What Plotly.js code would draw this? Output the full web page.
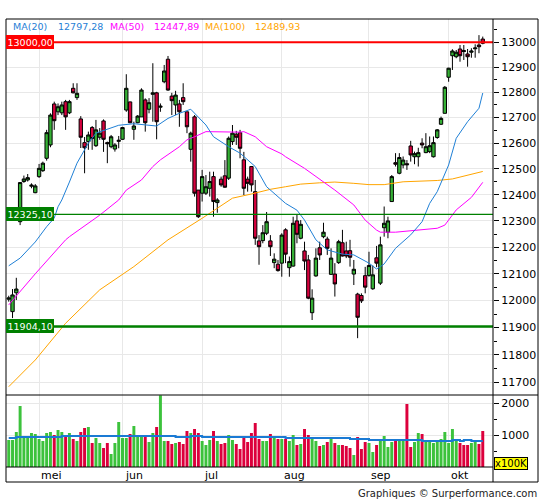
<!DOCTYPE html>
<html><head><meta charset="utf-8">
<script src="https://cdn.plot.ly/plotly-3.0.1.min.js"></script>
<style>body{margin:0;background:#fff}#chart{width:545px;height:500px}</style>
</head><body><div id="chart"></div>
<script>
// DAX daily candles, 19 Apr 2017 - 13 Oct 2017
const openP=[12005,11959,12029,12297,12451,12457,12433,12408,12470,12493,
12541,12593,12754,12723,12719,12763,12719,12816,12779,12695,
12602,12606,12661,12590,12623,12687,12602,12586,12577,12607,
12615,12730,12762,12654,12680,12703,12770,12733,12792,12798,
12741,12842,12932,12785,12750,12754,12779,12723,12576,12703,
12418,12406,12406,12425,12470,12370,12460,12473,12464,12606,
12635,12641,12535,12460,12509,12412,12224,12225,12253,12224,
12142,12136,12140,12266,12123,12129,12300,12234,12186,12152,
11955,12092,12198,12240,12231,12098,12099,12142,12217,12186,
12187,12099,12024,12019,12093,12094,12044,12160,12065,12274,
12257,12374,12524,12483,12515,12520,12589,12547,12547,12600,
12563,12567,12547,12622,12674,12717,12860,12946,12942,12973,
12967,12953,12960,12974,12989,13013];
const highP=[12018,12043,12085,12449,12474,12480,12444,12441,12519,12528,
12652,12717,12763,12756,12763,12770,12770,12836,12836,12706,
12624,12645,12667,12691,12659,12693,12606,12632,12600,12628,
12664,12872,12763,12684,12710,12816,12776,12777,12916,12802,
12756,12909,12945,12798,12806,12770,12836,12723,12645,12710,
12418,12496,12476,12489,12489,12387,12470,12534,12626,12671,
12648,12652,12566,12470,12511,12457,12246,12284,12334,12246,
12177,12152,12253,12272,12165,12316,12323,12303,12221,12171,
12042,12196,12221,12293,12240,12196,12140,12228,12266,12221,
12228,12152,12029,12027,12126,12183,12131,12205,12240,12355,
12316,12476,12561,12561,12548,12534,12609,12567,12582,12619,
12639,12626,12626,12655,12704,12825,12898,12972,12969,12989,
12989,12973,12976,12992,13029,13023];
const lowP=[11996,11935,12002,12284,12446,12451,12425,12406,12465,12488,
12532,12584,12652,12710,12710,12652,12714,12796,12770,12581,
12483,12574,12574,12585,12613,12566,12522,12580,12567,12580,
12613,12723,12678,12613,12678,12703,12645,12717,12684,12615,
12723,12836,12806,12710,12710,12664,12750,12639,12528,12393,
12311,12374,12399,12393,12316,12331,12431,12427,12457,12593,
12593,12541,12399,12412,12412,12209,12134,12215,12246,12167,
12121,12108,12089,12140,12089,12127,12215,12230,12114,12005,
11928,12089,12152,12234,12171,12096,12015,12137,12165,12159,
12127,12058,11861,11991,12027,12089,12040,12125,12058,12240,
12234,12374,12509,12479,12502,12496,12528,12518,12509,12580,
12561,12561,12544,12617,12671,12717,12842,12889,12936,12922,
12929,12902,12938,12938,12956,12992];
const closeP=[12010,12021,12043,12447,12461,12466,12437,12434,12502,12522,
12641,12710,12688,12743,12750,12703,12763,12798,12796,12623,
12582,12632,12618,12652,12639,12615,12598,12625,12593,12611,
12661,12816,12680,12667,12706,12809,12680,12759,12798,12684,
12745,12885,12809,12767,12789,12723,12763,12664,12639,12406,
12316,12470,12431,12451,12374,12380,12438,12429,12619,12639,
12623,12580,12425,12444,12438,12234,12202,12255,12297,12202,
12155,12112,12246,12174,12146,12291,12249,12287,12148,12009,
12009,12159,12171,12257,12196,12159,12062,12221,12167,12167,
12162,12117,11938,11999,12050,12131,12096,12140,12209,12291,
12300,12470,12518,12544,12534,12516,12554,12559,12563,12593,
12586,12590,12602,12652,12697,12820,12896,12965,12960,12946,
12963,12942,12965,12977,12982,12996];
// volume in units of 100K
const volume=[844,844,1094,1906,927,927,1063,1031,875,813,
1063,1094,1000,1156,1094,969,1063,875,813,1094,
1219,1250,750,906,750,594,750,406,750,1406,
906,906,1031,1281,1000,969,1000,781,1063,1250,
2240,813,813,719,750,781,719,1125,1063,1188,
1063,813,688,844,1125,813,719,750,1000,844,
719,563,938,781,1063,1375,875,813,813,1031,
938,875,875,875,813,1000,688,719,1188,1000,
938,813,656,688,781,938,750,688,688,656,
594,375,938,563,781,750,469,688,813,969,
625,781,875,844,844,1969,625,781,1063,1031,
813,813,750,844,875,1094,750,1188,813,750,
688,688,750,781,719,1125];
// moving averages (session index, value)
const ma20X=[0,3,7,9,10,12,13,14,15,16,18,21,23,26,29,33,37,39,42,45,48,49,52,54,58,61,65,68,71,73,76,78,81,84,88,91,95,97,98,99,102,106,109,111,113,116,118,121,124,125];
const ma20=[12130,12159,12220,12259,12278,12311,12354,12380,12418,12449,12522,12600,12639,12655,12670,12676,12669,12667,12697,12717,12733,12717,12671,12625,12586,12561,12509,12431,12393,12367,12341,12303,12228,12190,12174,12171,12140,12118,12127,12137,12196,12247,12297,12367,12412,12515,12619,12684,12737,12797.28];
const ma50X=[0,7,15,16,24,29,31,35,38,40,45,47,49,52,61,62,65,68,72,73,78,83,86,91,93,94,97,98,102,109,113,115,118,122,125];
const ma50=[11984,12100,12228,12240,12322,12380,12418,12457,12509,12535,12586,12613,12625,12645,12643,12645,12625,12586,12558,12547,12502,12451,12418,12361,12323,12303,12265,12257,12257,12268,12272,12284,12342,12390,12447.89];
const ma100X=[0,7,15,24,33,42,51,59,64,69,73,77,82,86,91,95,99,104,113,117,125];
const ma100=[11684,11781,11916,12040,12127,12228,12310,12387,12403,12421,12431,12441,12446,12449,12444,12439,12439,12450,12455,12461,12489.93];
const volMaX=[0,2,14,44,48,51,73,90,95,109,117,119,120,122,125];
const volMa=[906,938,969,938,969,938,906,875,844,813,844,813,844,813,813];
const monthIdx=[8,30,51,72,95,116];
const monthLabels=['mei','jun','jul','aug','sep','okt'];
const levels=[13000.00,12325.10,11904.10];
const priceTicks=[11700,11800,11900,12000,12100,12200,12300,12400,12500,12600,12700,12800,12900,13000];
const priceMinor=[11650,11750,11850,11950,12050,12150,12250,12350,12450,12550,12650,12750,12850,12950,13050];
const volTicks=[1000,2000];
const volMinor=[500,1500];

const idx=openP.map((_,i)=>i);
const fmt=v=>v.toFixed(2).replace('.',',');
const C_UP='#35b035', C_DN='#d5003d';
const C20='#1f80d6', C50='#ff00ff', C100='#ffa500';
const FONT='DejaVu Sans';

const traces=[
 {type:'candlestick',x:idx,open:openP,high:highP,low:lowP,close:closeP,xaxis:'x',yaxis:'y',
  increasing:{fillcolor:C_UP,line:{color:'#000',width:1}},
  decreasing:{fillcolor:C_DN,line:{color:'#000',width:1}},
  whiskerwidth:0,hoverinfo:'skip'},
 {type:'scatter',mode:'lines',x:ma100X,y:ma100,line:{color:C100,width:1},xaxis:'x',yaxis:'y',hoverinfo:'skip'},
 {type:'scatter',mode:'lines',x:ma50X,y:ma50,line:{color:C50,width:1},xaxis:'x',yaxis:'y',hoverinfo:'skip'},
 {type:'scatter',mode:'lines',x:ma20X,y:ma20,line:{color:C20,width:1},xaxis:'x',yaxis:'y',hoverinfo:'skip'},
 {type:'scatter',mode:'lines',x:[-5,140],y:[levels[0],levels[0]],line:{color:'#ff0000',width:2},xaxis:'x',yaxis:'y',hoverinfo:'skip'},
 {type:'scatter',mode:'lines',x:[-5,140],y:[levels[1],levels[1]],line:{color:'#008000',width:1.3},xaxis:'x',yaxis:'y',hoverinfo:'skip'},
 {type:'scatter',mode:'lines',x:[-5,140],y:[levels[2],levels[2]],line:{color:'#008000',width:2.5},xaxis:'x',yaxis:'y',hoverinfo:'skip'},
 {type:'bar',x:idx,y:volume,xaxis:'x2',yaxis:'y2',
  marker:{color:idx.map(i=>closeP[i]>=openP[i]?'#3cc23c':'#dc003c'),line:{width:0}},hoverinfo:'skip'},
 {type:'scatter',mode:'lines',x:volMaX,y:volMa,line:{color:'#1a7ad4',width:2,shape:'hv'},xaxis:'x2',yaxis:'y2',hoverinfo:'skip'}
];

const H=463, W=487;
const py=px=>(482-px)/H;   // pixel row -> paper y
const pxx=px=>(px-6)/W;    // pixel col -> paper x

const annotations=[];
const legend=[['MA(20)',11,C20],[fmt(ma20[ma20.length-1]),55.5,C20],
 ['MA(50)',108,C50],[fmt(ma50[ma50.length-1]),152,C50],
 ['MA(100)',203,C100],[fmt(ma100[ma100.length-1]),253,C100]];
legend.forEach(l=>annotations.push({xref:'paper',yref:'paper',x:pxx(l[1]),y:py(27),xanchor:'left',yanchor:'middle',
 text:l[0],showarrow:false,font:{family:FONT,size:9.5,color:l[2]}}));
const lvlCol=['#ff0000','#008000','#008000'];
levels.forEach((v,k)=>annotations.push({xref:'paper',yref:'y',x:0,y:Math.log10(v),xanchor:'left',yanchor:'middle',
 text:fmt(v),showarrow:false,bgcolor:lvlCol[k],borderpad:1.5,borderwidth:0,font:{family:FONT,size:9.5,color:'#ffffff'}}));
monthIdx.forEach((m,k)=>annotations.push({xref:'x2',yref:'paper',x:m,y:py(475),xanchor:'left',yanchor:'middle',xshift:0,
 text:monthLabels[k],showarrow:false,font:{family:FONT,size:11,color:'#000'}}));
annotations.push({xref:'paper',yref:'paper',x:pxx(494),y:py(463),xanchor:'left',yanchor:'middle',text:'x100K',showarrow:false,
 bgcolor:'#ffff00',bordercolor:'#000',borderwidth:1,borderpad:0,font:{family:FONT,size:10,color:'#000'}});
annotations.push({xref:'paper',yref:'paper',x:pxx(539),y:py(493),xanchor:'right',yanchor:'middle',text:'Graphiques © Surperformance.com',
 showarrow:false,font:{family:FONT,size:10,color:'#222'}});

const shapes=[
 {type:'rect',xref:'paper',yref:'paper',x0:0,x1:pxx(538),y0:0,y1:1,line:{color:'#000',width:1}},
 {type:'line',xref:'paper',yref:'paper',x0:1,x1:1,y0:0,y1:1,line:{color:'#000',width:1}},
 {type:'line',xref:'paper',yref:'paper',x0:0,x1:pxx(538),y0:py(395),y1:py(395),line:{color:'#000',width:1}},
 {type:'line',xref:'paper',yref:'paper',x0:0,x1:1,y0:py(467),y1:py(467),line:{color:'#000',width:1}}
];

const xBase={range:[-0.72,127.7],tickmode:'array',tickvals:monthIdx,showticklabels:false,ticks:'',
 showgrid:true,gridcolor:'#e8e8e8',gridwidth:1,zeroline:false,showline:false,fixedrange:true};
const layout={
 width:545,height:500,margin:{l:6,r:52,t:19,b:18,pad:0},
 paper_bgcolor:'#fff',plot_bgcolor:'#fff',showlegend:false,font:{family:FONT,size:11,color:'#000'},
 boxgap:0.12,boxgroupgap:0,bargap:0.22,
 xaxis:Object.assign({},xBase,{domain:[0,1],anchor:'y',rangeslider:{visible:false}}),
 xaxis2:Object.assign({},xBase,{domain:[0,1],anchor:'y2',matches:'x'}),
 yaxis:{domain:[py(395),1],type:'log',range:[4.066473,4.117079],side:'right',anchor:'x',
  tickmode:'array',tickvals:priceTicks,ticktext:priceTicks.map(String),ticks:'outside',ticklen:5,tickcolor:'#000',
  tickfont:{family:FONT,size:11,color:'#000'},showgrid:true,gridcolor:'#e8e8e8',zeroline:false,showline:false,fixedrange:true,
  minor:{tickmode:'array',tickvals:priceMinor,ticks:'outside',ticklen:3,tickcolor:'#000',showgrid:false}},
 yaxis2:{domain:[py(467),py(395)],range:[0,2250],side:'right',anchor:'x2',
  tickmode:'array',tickvals:volTicks,ticktext:volTicks.map(String),ticks:'outside',ticklen:5,tickcolor:'#000',
  tickfont:{family:FONT,size:11,color:'#000'},showgrid:true,gridcolor:'#e8e8e8',zeroline:false,showline:false,fixedrange:true,
  minor:{tickmode:'array',tickvals:volMinor,ticks:'outside',ticklen:3,tickcolor:'#000',showgrid:false}},
 annotations:annotations,shapes:shapes
};
Plotly.newPlot('chart',traces,layout,{staticPlot:true,displayModeBar:false});
</script></body></html>
